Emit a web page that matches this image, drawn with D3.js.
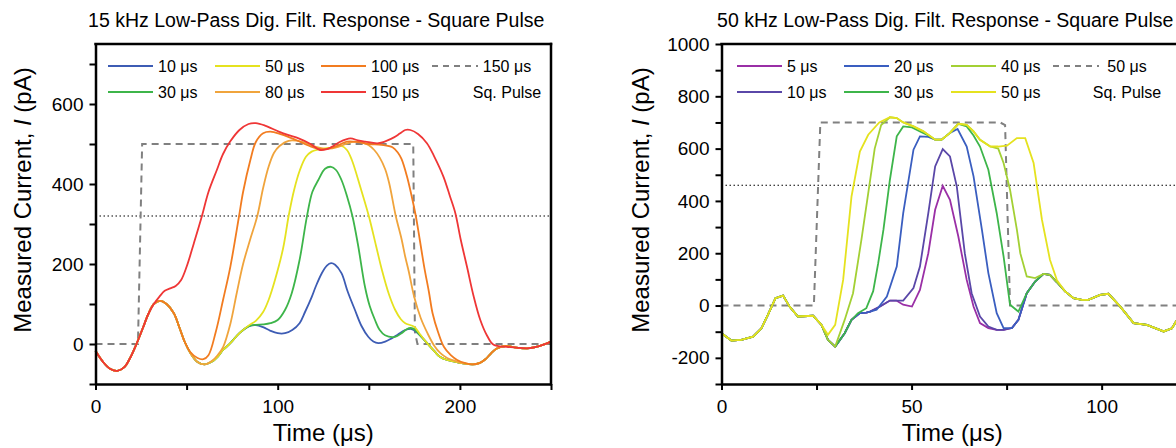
<!DOCTYPE html>
<meta charset="utf-8">
<style>
body { margin: 0; background: #fff; }
svg { display: block; font-family: "Liberation Sans", Arial, sans-serif; }
.axis .domain { stroke: #000; stroke-width: 2.5px; }
.axis .tick line { stroke: #000; stroke-width: 2px; }
.axis text { font-size: 19px; fill: #000; font-family: "Liberation Sans", Arial, sans-serif; }
.frame { stroke: #000; stroke-width: 2.5px; stroke-linecap: square; }
</style>
<body></body>
<script src="https://cdnjs.cloudflare.com/ajax/libs/d3/7.8.5/d3.min.js"></script>
<script>

// ---- 15 kHz panel data (time in us, current in pA)
var head15 = [[0,-17],[4,-44],[8,-62],[12,-67],[16,-57],[19,-35],[22.5,0],[26,40],[29,75],[32,100]];
var tail15 = [[211,-47],[214,-38],[217,-24],[220,-12],[225,-5],[231,-9],[237,-11],[243,-6],[250,6]];

var f15_10 = [[35.5,108],[39,100],[43,77],[46,42],[49,5],[52,-22],[56,-45],[60,-51],[64,-44],[67,-32],[70,-15],[74,2],[79,27],
  [84,44],[88,47],[92,42],[96,33],[100,27],[104,27],[108,35],[112,52],[115,80],[118.7,118],[121,145],[124.2,177],[127,196],
  [129.3,202],[131.5,198],[135,177],[138.5,130],[142.4,85],[146,45],[149.7,18],[152.5,6],[155.2,2],[159,6],[162.5,14],[166,24],
  [170,35],[173,38],[175,34],[178,22],[182,2],[186,-18],[189,-32],[193,-40],[197,-44],[201,-48],[207,-51]];
var f15_30 = [[35.5,108],[39,100],[43,77],[46,42],[49,5],[52,-22],[56,-45],[60,-51],[64,-44],[67,-32],[70,-15],[74,2],[79,27],
  [84,44],[88,48],[92,49],[96,52],[100,60],[104,85],[107.7,127],[112,210],[116,318],[119,380],[122.3,410],[126,438],[129.3,443],
  [132,435],[135,410],[138,370],[141,320],[144,250],[147.9,143],[150.5,95],[153.4,60],[156,35],[158.9,22],[164.4,18],[168,27],
  [170.8,37],[173,40],[175.4,35],[178,22],[182,2],[186,-18],[189,-32],[193,-40],[197,-44],[201,-48],[207,-51]];
var f15_50 = [[35.5,108],[39,100],[43,77],[46,42],[49,5],[52,-22],[56,-45],[60,-51],[64,-44],[67,-32],[70,-15],[74,2],[79,27],
  [84,46],[88,58],[92,80],[95,110],[98.5,160],[103,240],[106,320],[109,385],[112.2,435],[115.5,468],[118.6,481],[122,486],
  [126,489],[131,492],[135.2,495],[138,485],[140.7,460],[145.3,393],[150,320],[154,245],[157.2,185],[161,125],[164.5,85],
  [167.6,62],[170,52],[174.9,43],[178,25],[182,2],[186,-18],[189,-32],[193,-40],[197,-44],[201,-48],[207,-51]];
var f15_80 = [[35.5,108],[39,100],[43,77],[46,42],[49,5],[52,-22],[56,-45],[60,-51],[64,-42],[67,-28],[70.1,-7],[74,50],
  [77.5,127],[81,200],[84.8,260],[88.8,320],[92,390],[95,443],[98,478],[101,495],[106,508],[113,506],[121,493],[126,488],
  [130,489],[134,494],[139,503],[143,506],[147,503],[150,497],[153,485],[156,466],[159,437],[161.2,402],[164.8,320],[168,262],
  [170,218],[172,180],[174.9,118],[178.5,65],[182.2,27],[186,-5],[189.3,-23],[193,-35],[198.5,-44],[203,-49],[207,-51]];
var f15_100 = [[35.5,108],[39,100],[43,77],[46,42],[49,5],[52,-20],[56,-35],[59.2,-38],[62,-28],[66,30],[70,110],[74,193],
  [78.8,320],[81,380],[85,460],[88,505],[92,527],[96,531],[102,524],[110,510],[118,494],[124,487],[128,489],[132,494],
  [138,506],[144,505],[150,500],[157,498],[163,492],[166,478],[168,462],[171,418],[173.5,370],[175.8,320],[178,260],
  [180.4,193],[183,130],[185,77],[188,30],[191.2,-7],[195,-28],[198.5,-40],[203,-48],[207,-51]];
var f15_150 = [[35,118],[38,133],[41,139],[44,145],[47,160],[50,193],[54,252],[58.3,318],[62,380],[66.6,435],[70,475],
  [73.9,506],[79,535],[84,550],[88,552],[93,546],[100.6,531],[106,522],[111.5,514],[118,500],[123.2,485],[127,487],[129.7,493],
  [134,505],[139.9,514],[144,509],[148,506],[155.4,502],[162.7,514],[167,526],[170,535],[172.8,535],[177,525],[181.9,502],
  [186,468],[191,418],[194.5,370],[197.5,327],[200.5,260],[203.9,193],[207.5,120],[211.2,60],[215,20],[218.5,-2],
  [225.8,-7],[231,-9],[237,-11],[243,-6],[250,6]];

var names15 = ["10 \u03bcs", "30 \u03bcs", "50 \u03bcs", "80 \u03bcs", "100 \u03bcs", "150 \u03bcs"];
var values15 = [
  head15.concat(f15_10, tail15),
  head15.concat(f15_30, tail15),
  head15.concat(f15_50, tail15),
  head15.concat(f15_80, tail15),
  head15.concat(f15_100, tail15),
  head15.concat(f15_150)
];
var pulse15 = [[0,0],[23.3,0],[25.6,500],[174.4,500],[175.3,30],[176.7,0],[250,0]];
var thresh15 = 320;
var xTicks15 = [0, 50, 100, 150, 200, 250];
var xLabels15 = [0, 100, 200];
var yTicks15 = [-100, 0, 100, 200, 300, 400, 500, 600, 700];
var yLabels15 = [0, 200, 400, 600];

// ---- 50 kHz panel data
var head50 = [[0,-106],[2.6,-134],[5.2,-131],[8.3,-119],[10.5,-87],[12.2,-36],[14.2,28],[16.2,38],[17.9,-4],[20.1,-42],[24.1,-39],[26.3,-74]];
var tail50 = [[90.4,54],[92.6,28],[94.8,22],[96.5,22],[99.6,41],[101.8,45],[104.9,-4],[108.4,-67],[111.9,-74],[116.3,-99],[118.5,-87],[120,-50]];
var back50 = [[76.4,-86],[78.1,-55],[80.3,47],[82.5,92],[84.7,121],[86.4,117],[88.2,90]];

var f50_5 = [[28,-131],[29.9,-157],[32.4,-106],[34.2,-55],[36.4,-29],[38.1,-27],[39.1,-23],[41.7,-4],[44.3,19],[46,19],
  [47.8,3],[50.1,-4],[52.2,60],[54.4,200],[56.2,366],[58.2,458],[60.1,404],[62.3,264],[64.5,98],[66.3,-4],[68,-67],
  [70.2,-86],[72.4,-93],[74.2,-93]];
var f50_10 = [[28,-131],[29.9,-157],[32.4,-106],[34.2,-55],[36.4,-29],[38.1,-27],[39.1,-23],[41.7,-4],[44.3,19],[47.8,19],
  [50.5,67],[52.2,149],[54.4,353],[56.2,532],[58.2,598],[60.1,570],[61.9,455],[64,200],[65.8,47],[68,-42],[70.2,-80],
  [72.4,-93],[74.2,-93]];
var f50_20 = [[28,-131],[29.9,-157],[32.4,-106],[34.2,-55],[36.4,-29],[38.1,-27],[39.1,-23],[40.8,-16],[43.5,34],[46.1,149],
  [47.8,353],[50.5,596],[52.2,647],[54.4,645],[56.2,634],[57.9,634],[60.1,660],[62.1,675],[64.5,608],[66.3,494],[68.5,290],
  [70.2,124],[72.4,-29],[74.2,-86]];
var f50_30 = [[28,-131],[29.9,-157],[32.4,-106],[34.2,-55],[35.9,-29],[38.1,-10],[39.9,55],[41.2,160],[42.6,290],[44.3,481],
  [46.1,647],[47.8,685],[50.1,681],[52.2,666],[54.4,650],[56.2,634],[57.9,634],[60.1,660],[62.3,695],[64.5,685],[66.3,650],
  [68,608],[70.2,519],[72.4,353],[74.2,188],[75.9,3],[78.1,-23],[80.3,47],[82.5,92],[84.7,121],[86.4,117],[88.2,90]];
var f50_40 = [[28,-131],[29.9,-157],[32.4,-55],[34.6,47],[36.8,251],[38.6,430],[40.3,600],[42,690],[44.3,720],[46.1,717],
  [47.8,700],[50.5,685],[53.1,666],[56.2,634],[57.9,634],[60.1,660],[62.3,695],[64.5,691],[66.3,666],[68,634],[70.7,608],
  [72.8,600],[74.2,545],[75.9,443],[77.7,290],[78.6,200],[80.3,111],[82.5,105],[84.7,121],[86.4,117],[88.2,90]];
var f50_50 = [[28,-112],[29.9,-74],[32,98],[34.2,417],[36.4,589],[38.6,653],[41.5,700],[44.3,720],[46.1,717],[47.8,700],
  [50.5,685],[53.1,666],[56.2,634],[57.9,634],[60.1,660],[62.3,695],[64.5,691],[66.3,666],[68,634],[70.7,608],[72.8,608],
  [75.1,611],[77.7,640],[79.9,640],[82.1,545],[84.3,328],[86.4,175],[88.2,98]];

var names50 = ["5 \u03bcs", "10 \u03bcs", "20 \u03bcs", "30 \u03bcs", "40 \u03bcs", "50 \u03bcs"];
var values50 = [
  head50.concat(f50_5, back50, tail50),
  head50.concat(f50_10, back50, tail50),
  head50.concat(f50_20, back50, tail50),
  head50.concat(f50_30, tail50),
  head50.concat(f50_40, tail50),
  head50.concat(f50_50, tail50)
];
var pulse50 = [[0,0],[24.3,0],[26,700],[73.3,700],[74.6,690],[75.9,0],[121,0]];
var thresh50 = 460;
var xTicks50 = [0, 25, 50, 75, 100];
var xLabels50 = [0, 50, 100];
var yTicks50 = [-300, -200, -100, 0, 100, 200, 300, 400, 500, 600, 700, 800, 900, 1000];
var yLabels50 = [-200, 0, 200, 400, 600, 800, 1000];

var colors15 = ["#3d5cb4", "#3db54a", "#e5e21f", "#f0a43c", "#f27c20", "#ef3636"];
var colors50 = ["#9a2fa6", "#5a47a8", "#3a5ec0", "#3db54a", "#a3d034", "#e5e21f"];

var svg = d3.select("body").append("svg")
    .attr("width", 1176)
    .attr("height", 448);

function drawPanel(p) {
  var x = d3.scaleLinear().domain(p.xDomain).range(p.xRange);
  var y = d3.scaleLinear().domain(p.yDomain).range([384, 44]);
  var mid = (p.xRange[0] + p.xRange[1]) / 2;
  var g = svg.append("g");

  g.append("text")
      .attr("x", mid - 7)
      .attr("y", 27)
      .attr("text-anchor", "middle")
      .style("font-size", "19.5px")
      .text(p.title);

  g.append("line")
      .attr("x1", p.xRange[0]).attr("x2", p.xRange[1])
      .attr("y1", y(p.thresh)).attr("y2", y(p.thresh))
      .attr("stroke", "#000")
      .attr("stroke-width", 1.2)
      .attr("stroke-dasharray", "1.5,2.5");

  var straight = d3.line().x(function(d) { return x(d[0]); }).y(function(d) { return y(d[1]); });
  g.append("path")
      .datum(p.pulse)
      .attr("d", straight)
      .attr("fill", "none")
      .attr("stroke", "#808080")
      .attr("stroke-width", 2)
      .attr("stroke-dasharray", "7,5");

  var line = d3.line().curve(p.curve)
      .x(function(d) { return x(d[0]); })
      .y(function(d) { return y(d[1]); });

  g.selectAll(".series")
    .data(p.values)
    .enter().append("path")
      .attr("class", "series")
      .attr("d", line)
      .attr("fill", "none")
      .attr("stroke", function(d, i) { return p.colors[i]; })
      .attr("stroke-width", 1.8);

  g.append("g")
      .attr("class", "axis")
      .attr("transform", "translate(0,384)")
      .call(d3.axisBottom(x).tickValues(p.xTicks).tickSize(6).tickSizeOuter(0).tickPadding(10)
        .tickFormat(function(d) { return p.xLabels.indexOf(d) >= 0 ? d : ""; }));

  g.append("g")
      .attr("class", "axis")
      .attr("transform", "translate(" + p.xRange[0] + ",0)")
      .call(d3.axisLeft(y).tickValues(p.yTicks).tickSize(6).tickSizeOuter(0).tickPadding(6)
        .tickFormat(function(d) { return p.yLabels.indexOf(d) >= 0 ? d : ""; }));

  g.append("line").attr("class", "frame")
      .attr("x1", p.xRange[0]).attr("x2", p.xRange[1]).attr("y1", 44).attr("y2", 44);
  if (p.rightFrame) {
    g.append("line").attr("class", "frame")
        .attr("x1", p.xRange[1]).attr("x2", p.xRange[1]).attr("y1", 44).attr("y2", 384);
  }

  g.append("text")
      .attr("x", mid)
      .attr("y", 441)
      .attr("text-anchor", "middle")
      .style("font-size", "24px")
      .text("Time (\u03bcs)");

  var yl = g.append("text")
      .attr("transform", "translate(" + p.yLabelX + ",200) rotate(-90)")
      .attr("text-anchor", "middle")
      .style("font-size", "24px");
  yl.append("tspan").text("Measured Current,  ");
  yl.append("tspan").style("font-style", "italic").text("I");
  yl.append("tspan").text(" (pA)");

  // legend, two rows, three columns + square pulse entry
  var rows = [66, 92];
  var leg = g.selectAll(".leg")
    .data(p.names)
    .enter().append("g")
      .attr("transform", function(d, i) {
        return "translate(" + p.legendX[Math.floor(i / 2)] + "," + rows[i % 2] + ")";
      });
  leg.append("line")
      .attr("x1", 0).attr("x2", 45)
      .attr("stroke", function(d, i) { return p.colors[i]; })
      .attr("stroke-width", 1.8);
  leg.append("text")
      .attr("x", 50)
      .attr("dy", "0.35em")
      .style("font-size", "16px")
      .text(function(d) { return d; });

  g.append("line")
      .attr("x1", p.legendX[3]).attr("x2", p.legendX[3] + 46)
      .attr("y1", rows[0]).attr("y2", rows[0])
      .attr("stroke", "#808080")
      .attr("stroke-width", 1.8)
      .attr("stroke-dasharray", "6,5");
  g.append("text")
      .attr("x", p.sqX).attr("y", rows[0]).attr("dy", "0.35em")
      .attr("text-anchor", "middle")
      .style("font-size", "16px")
      .text(p.sqName);
  g.append("text")
      .attr("x", p.sqX).attr("y", rows[1]).attr("dy", "0.35em")
      .attr("text-anchor", "middle")
      .style("font-size", "16px")
      .text("Sq. Pulse");
}

drawPanel({
  title: "15 kHz Low-Pass Dig. Filt. Response - Square Pulse",
  xDomain: [0, 250], xRange: [95.5, 551],
  yDomain: [-100, 750],
  xTicks: xTicks15, xLabels: xLabels15, yTicks: yTicks15, yLabels: yLabels15,
  values: values15, names: names15, colors: colors15,
  pulse: pulse15, thresh: thresh15,
  curve: d3.curveCatmullRom.alpha(0.5),
  rightFrame: true,
  yLabelX: 31,
  legendX: [108, 215, 321, 432], sqX: 507, sqName: "150 \u03bcs"
});

drawPanel({
  title: "50 kHz Low-Pass Dig. Filt. Response - Square Pulse",
  xDomain: [0, 121.4], xRange: [721.5, 1183],
  yDomain: [-300, 1000],
  xTicks: xTicks50, xLabels: xLabels50, yTicks: yTicks50, yLabels: yLabels50,
  values: values50, names: names50, colors: colors50,
  pulse: pulse50, thresh: thresh50,
  curve: d3.curveLinear,
  rightFrame: false,
  yLabelX: 649,
  legendX: [737, 844, 951, 1053], sqX: 1127, sqName: "50 \u03bcs"
});

</script>
